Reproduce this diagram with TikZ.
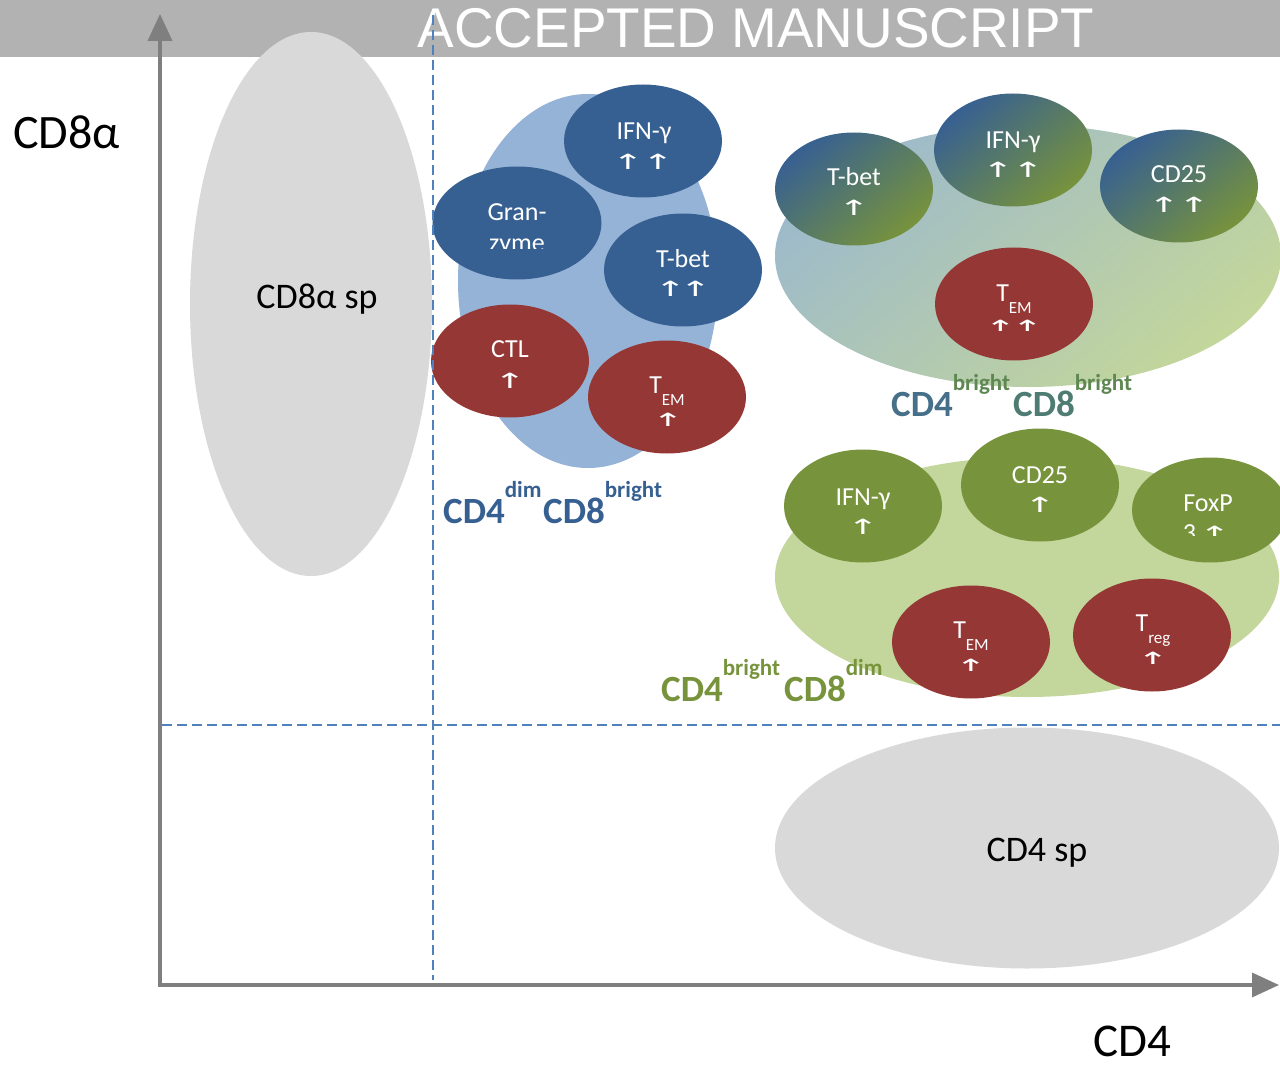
\documentclass[tikz,border=0pt]{standalone}
\usepackage{fontspec}
\usepackage{graphicx}
\setmainfont{Carlito}
\newfontfamily\arrfont{DejaVu Sans}
\newfontfamily\bannerfont{Liberation Sans}
\usetikzlibrary{shapes.geometric,arrows.meta}
\definecolor{bannergray}{HTML}{B2B2B2}
\definecolor{axisgray}{HTML}{7F7F7F}
\definecolor{dashblue}{HTML}{4F81BD}
\definecolor{spgray}{HTML}{D9D9D9}
\definecolor{lightblue}{HTML}{95B3D7}
\definecolor{darkblue}{HTML}{376092}
\definecolor{darkred}{HTML}{953735}
\definecolor{mygreen}{HTML}{77933C}
\definecolor{lightgreen}{HTML}{C3D69B}
\definecolor{bluegray}{HTML}{9DBACB}
\definecolor{tealA}{HTML}{46708A}
\definecolor{tealB}{HTML}{4F7C72}
\definecolor{tealC}{HTML}{5E8752}
\newcommand\setfs[1]{\fontsize{#1pt}{#1pt}\selectfont}
\newcommand\lowsub[1]{\raisebox{-12pt}{\setfs{17}#1}}
\newcommand\highsup[2]{\raisebox{26pt}{\setfs{23}\color{#1}#2}}
\newcommand\ua{\makebox[17pt]{\arrfont\setfs{21}\scalebox{1.8}[1]{↑}}}
\newcommand\uuclose{\ua\hspace{8pt}\ua}
\newcommand\uuwide{\ua\hspace{13pt}\ua}
\begin{document}
\begin{tikzpicture}[x=1pt,y=-1pt,
  cell/.style={ellipse, inner sep=0pt, minimum width=158pt, minimum height=113pt},
  bluecell/.style={cell, fill=darkblue},
  redcell/.style={cell, fill=darkred},
  greencell/.style={cell, fill=mygreen},
  mixcell/.style={cell, top color=darkblue, bottom color=mygreen, shading angle=40},
  wt/.style={text=white, inner sep=0pt, font=\setfs{26}, anchor=base},
  up/.style={text=white, inner sep=0pt},
  bigl/.style={inner sep=0pt, anchor=base west, font=\bfseries\setfs{37}},
  axis/.style={draw=axisgray, line width=3.5pt, line cap=rect, -{Triangle[length=27pt,width=24pt]}},
  guide/.style={draw=dashblue, line width=1.5pt, dash pattern=on 10pt off 5pt},
  spblob/.style={ellipse, fill=spgray, inner sep=0pt}
]
\useasboundingbox (0,0) rectangle (1280,1067);
\clip (0,0) rectangle (1280,1067);
\fill[white] (0,0) rectangle (1280,1067);

% banner
\fill[bannergray] (0,0) rectangle (1280,57);
\node[text=white, inner sep=0pt, anchor=base, font=\bannerfont\setfs{56}, xscale=0.98] (banner) at (756,48) {ACCEPTED MANUSCRIPT};

% axes
\coordinate (O) at (160,985);
\coordinate (Ytop) at (160,14);
\coordinate (Xend) at (1279,985);
\draw[axis] (O) -- (Ytop);
\draw[axis] (O) -- (Xend);
\node[inner sep=0pt, anchor=base west, font=\setfs{48}] (ylab) at (13,149) {CD8α};
\node[inner sep=0pt, anchor=base west, font=\setfs{47}] (xlab) at (1093,1056) {CD4};

% single-positive populations
\node[spblob, minimum width=242pt, minimum height=544pt] (cd8sp) at (311,304) {};
\node[inner sep=0pt, anchor=base, font=\setfs{36}] (cd8spt) at (317,309) {CD8α sp};
\node[spblob, minimum width=504pt, minimum height=241pt] (cd4sp) at (1027,848) {};
\node[inner sep=0pt, anchor=base, font=\setfs{36}] (cd4spt) at (1037,861) {CD4 sp};

% ---- CD4 dim CD8 bright cluster
\node[ellipse, fill=lightblue, inner sep=0pt, minimum width=260pt, minimum height=374pt] (bclu) at (588,281) {};
\node[bluecell] (bIFN) at (643,141) {};
\node[wt] (bIFNt) at (644,140) {IFN-γ};
\node[up] (bIFNa) at (643,162) {\uuwide};
\node[bluecell, minimum width=169pt] (bGran) at (517,223) {};
\node[wt] (bGrant) at (517,221) {Gran-};
\begin{scope}
\clip (470,230) rectangle (565,249);
\node[wt] (bGrant2) at (517,252) {zyme};
\end{scope}
\node[bluecell] (bTbet) at (683,270) {};
\node[wt] (bTbett) at (683,268) {T-bet};
\node[up] (bTbeta) at (683,289) {\uuclose};
\node[redcell] (bCTL) at (510,361) {};
\node[wt] (bCTLt) at (510,358) {CTL};
\node[up] (bCTLa) at (510,381) {\ua};
\node[redcell] (bTEM) at (667,397) {};
\node[wt] (bTEMt) at (667,393) {T\lowsub{EM}};
\begin{scope}
\clip (640,405) rectangle (700,425);
\node[up] (bTEMa) at (668,421) {\ua};
\end{scope}
\node[bigl, text=darkblue] (bCD4) at (443,523) {CD4\highsup{darkblue}{dim}};
\node[bigl, text=darkblue] (bCD8) at (543,523) {CD8\highsup{darkblue}{bright}};

% ---- CD4 bright CD8 bright cluster
\node[ellipse, inner sep=0pt, minimum width=506pt, minimum height=262pt, top color=bluegray, bottom color=lightgreen, shading angle=40] (gclu) at (1028,256) {};
\node[mixcell] (gTbet) at (854,189) {};
\node[wt] (gTbett) at (854,186) {T-bet};
\node[up] (gTbeta) at (854,208) {\ua};
\node[mixcell] (gIFN) at (1013,150) {};
\node[wt] (gIFNt) at (1013,149) {IFN-γ};
\node[up] (gIFNa) at (1013,170) {\uuwide};
\node[mixcell] (gCD25) at (1179,186) {};
\node[wt] (gCD25t) at (1179,183) {CD25};
\node[up] (gCD25a) at (1179,205) {\uuwide};
\node[redcell] (gTEM) at (1014,304) {};
\node[wt] (gTEMt) at (1014,302) {T\lowsub{EM}};
\begin{scope}
\clip (980,315) rectangle (1050,331);
\node[up] (gTEMa) at (1014,328) {\ua\hspace{10pt}\ua};
\end{scope}
\node[bigl, text=tealA] (gCD4) at (891,416) {CD4\highsup{tealC}{bright}};
\node[bigl, text=tealB] (gCD8) at (1013,416) {CD8\highsup{tealC}{bright}};

% ---- CD4 bright CD8 dim cluster
\node[ellipse, fill=lightgreen, inner sep=0pt, minimum width=504pt, minimum height=240pt] (lclu) at (1027,577) {};
\node[greencell] (lIFN) at (863,506) {};
\node[wt] (lIFNt) at (863,505) {IFN-γ};
\node[up] (lIFNa) at (863,527) {\ua};
\node[greencell] (lCD25) at (1040,485) {};
\node[wt] (lCD25t) at (1040,483) {CD25};
\node[up] (lCD25a) at (1040,505) {\ua};
\node[greencell, minimum width=156pt, minimum height=105pt] (lFox) at (1210,510) {};
\node[wt] (lFoxt) at (1208,511) {FoxP};
\begin{scope}
\clip (1170,520) rectangle (1250,535);
\node[wt] (lFoxt2) at (1203,541) {3\hspace{10pt}\ua};
\end{scope}
\node[redcell] (lTEM) at (971,642) {};
\node[wt] (lTEMt) at (971,638) {T\lowsub{EM}};
\begin{scope}
\clip (940,650) rectangle (1000,670);
\node[up] (lTEMa) at (971,667) {\ua};
\end{scope}
\node[redcell] (lTreg) at (1152,635) {};
\node[wt] (lTregt) at (1153,631) {T\lowsub{reg}};
\begin{scope}
\clip (1120,645) rectangle (1190,663);
\node[up] (lTrega) at (1153,660) {\ua};
\end{scope}
\node[bigl, text=mygreen] (lCD4) at (661,701) {CD4\highsup{mygreen}{bright}};
\node[bigl, text=mygreen] (lCD8) at (784,701) {CD8\highsup{mygreen}{dim}};

% guide lines
\coordinate (V1) at (433,15);
\coordinate (V2) at (433,980);
\coordinate (H1) at (162,725);
\coordinate (H2) at (1280,725);
\draw[guide] (V1) -- (V2);
\draw[guide] (H1) -- (H2);
\end{tikzpicture}
\end{document}
